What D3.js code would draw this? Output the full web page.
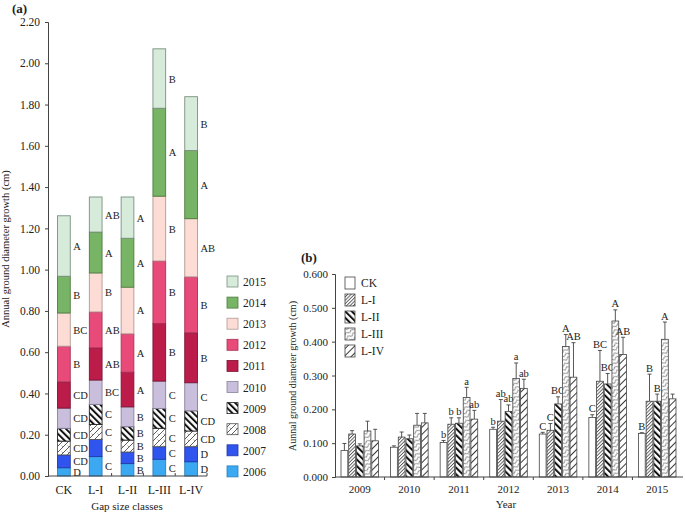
<!DOCTYPE html>
<html><head><meta charset="utf-8">
<script src="https://cdn.jsdelivr.net/npm/d3@7"></script>
<style>
body{margin:0;background:#fff;}
svg text{font-family:"Liberation Serif","Times New Roman",serif;fill:#222;}
</style></head>
<body><svg id="chart" width="685" height="512"></svg>
<script>
// ---------- Panel (a) data ----------
const gapClasses = ["CK","L-I","L-II","L-III","L-IV"];
const yearsA = ["2006","2007","2008","2009","2010","2011","2012","2013","2014","2015"];
// annual increments per gap class, 2006..2015
const growthCK   = [0.040,0.062,0.067,0.062,0.098,0.127,0.173,0.161,0.178,0.293];
const growthLI   = [0.094,0.083,0.073,0.097,0.118,0.156,0.174,0.189,0.198,0.170];
const growthLII  = [0.060,0.056,0.058,0.065,0.096,0.168,0.186,0.226,0.237,0.200];
const growthLIII = [0.081,0.061,0.089,0.096,0.133,0.279,0.303,0.314,0.426,0.288];
const growthLIV  = [0.069,0.073,0.076,0.098,0.136,0.242,0.271,0.282,0.330,0.261];
const lettersCK   = ["D","CD","CD","CD","CD","CD","B","BC","B","A"];
const lettersLI   = ["C","C","C","C","BC","AB","AB","B","A","AB"];
const lettersLII  = ["B","B","B","B","B","A","A","A","A","A"];
const lettersLIII = ["C","C","C","C","C","B","B","B","A","B"];
const lettersLIV  = ["D","D","CD","CD","C","B","B","AB","A","B"];
const yTicksA = [0,0.2,0.4,0.6,0.8,1.0,1.2,1.4,1.6,1.8,2.0,2.2];

// ---------- Panel (b) data ----------
const yearsB = ["2009","2010","2011","2012","2013","2014","2015"];
const treatments = ["CK","L-I","L-II","L-III","L-IV"];
const meanCK   = [0.078,0.088,0.102,0.141,0.127,0.176,0.129];
const meanLI   = [0.127,0.118,0.156,0.165,0.138,0.283,0.224];
const meanLII  = [0.092,0.113,0.159,0.194,0.216,0.275,0.224];
const meanLIII = [0.136,0.153,0.235,0.291,0.386,0.461,0.407];
const meanLIV  = [0.107,0.160,0.171,0.262,0.295,0.362,0.231];
const errCK   = [0.021,0.004,0.006,0.006,0.005,0.008,0.002];
const errLI   = [0.010,0.015,0.019,0.064,0.020,0.091,0.080];
const errLII  = [0.006,0.011,0.016,0.019,0.021,0.031,0.021];
const errLIII = [0.029,0.035,0.030,0.046,0.035,0.033,0.051];
const errLIV  = [0.034,0.028,0.026,0.027,0.102,0.051,0.014];
const sigCK   = ["","","b","b","C","C","B"];
const sigLI   = ["","","b","ab","C","BC","B"];
const sigLII  = ["","","b","ab","BC","BC","B"];
const sigLIII = ["","","a","a","A","A","A"];
const sigLIV  = ["","","ab","ab","AB","AB",""];
const yTicksB = [0,0.1,0.2,0.3,0.4,0.5,0.6];

// ---------- setup ----------
const svg = d3.select("#chart");
const defs = svg.append("defs");
function stripePattern(id, size, width, color, angle, bg){
  const p = defs.append("pattern").attr("id",id).attr("patternUnits","userSpaceOnUse")
    .attr("width",size).attr("height",size).attr("patternTransform",`rotate(${angle})`);
  p.append("rect").attr("width",size).attr("height",size).attr("fill",bg);
  p.append("rect").attr("x",0).attr("y",0).attr("width",width).attr("height",size).attr("fill",color);
}
stripePattern("pBold", 4.6, 2.0, "#111", -45, "#fff");      // thick "\" stripes
stripePattern("pDense", 2.4, 0.9, "#555", 45, "#fff");      // dense "/" hatch
stripePattern("pSparse", 5, 0.9, "#222", 45, "#fff");       // sparse "/" lines
(function(){
  const p = defs.append("pattern").attr("id","pWave").attr("patternUnits","userSpaceOnUse")
    .attr("width",6).attr("height",4).attr("patternTransform","rotate(-30)");
  p.append("rect").attr("width",6).attr("height",4).attr("fill","#fff");
  p.append("path").attr("d","M0,2 Q1.5,0 3,2 T6,2").attr("fill","none").attr("stroke","#555").attr("stroke-width",0.8);
})();
(function(){
  const p = defs.append("pattern").attr("id","pCross").attr("patternUnits","userSpaceOnUse")
    .attr("width",6).attr("height",6);
  p.append("rect").attr("width",6).attr("height",6).attr("fill","#fff");
  p.append("path").attr("d","M0,6 L6,0 M-1,1 L1,-1 M5,7 L7,5").attr("stroke","#333").attr("stroke-width",0.8);
  p.append("path").attr("d","M1.5,1.5 L3,3").attr("stroke","#666").attr("stroke-width",0.6);
})();

const yearFill = {
  "2006":"#3aa9f2","2007":"#2f55ee","2008":"url(#pCross)","2009":"url(#pBold)",
  "2010":"#c9bfdd","2011":"#bb1c4a","2012":"#e84b79","2013":"#fcdcd4",
  "2014":"#78b466","2015":"#d6ebd9"
};
const yearStroke = {
  "2006":"#2a80bd","2007":"#2238a8","2008":"#555","2009":"#222",
  "2010":"#8b809c","2011":"#7d1232","2012":"#a83358","2013":"#b09a94",
  "2014":"#4d7d40","2015":"#7d8f80"
};

// ---------- Panel (a) ----------
const growthA = [growthCK,growthLI,growthLII,growthLIII,growthLIV];
const lettersA = [lettersCK,lettersLI,lettersLII,lettersLIII,lettersLIV];
const xA = d3.scaleBand().domain(gapClasses).range([48,207]).paddingInner(0.6).paddingOuter(0.3);
const yA = d3.scaleLinear().domain([0,2.2]).range([476,22]);
const gA = svg.append("g");

gA.append("g").attr("transform","translate(48,0)")
  .call(d3.axisLeft(yA).tickValues(yTicksA).tickFormat(d3.format(".2f")).tickSize(3).tickPadding(5))
  .call(g=>{g.selectAll("text").style("font-size","11.5px").style("font-family","Liberation Serif");
            g.selectAll("line,path").attr("stroke","#444");});

gapClasses.forEach((c,i)=>{
  let cum = 0;
  growthA[i].forEach((v,j)=>{
    const y0 = cum, y1 = cum+v; cum = y1;
    gA.append("rect").attr("x",xA(c)).attr("width",xA.bandwidth())
      .attr("y",yA(y1)).attr("height",yA(y0)-yA(y1))
      .attr("fill",yearFill[yearsA[j]]).attr("stroke",yearStroke[yearsA[j]]).attr("stroke-width",0.9);
    gA.append("text").attr("x",xA(c)+xA.bandwidth()+3).attr("y",yA((y0+y1)/2)+4)
      .style("font-size","10.5px").text(lettersA[i][j]);
  });
});

// x axis (a)
gA.append("line").attr("x1",48).attr("x2",207).attr("y1",476).attr("y2",476).attr("stroke","#444");
d3.range(1,6).forEach(k=>{
  const bx = 48 + k*xA.step();
  gA.append("line").attr("x1",bx).attr("x2",bx).attr("y1",476).attr("y2",473).attr("stroke","#444");
});
gapClasses.forEach(c=>{
  gA.append("text").attr("x",xA(c)+xA.bandwidth()/2).attr("y",494).attr("text-anchor","middle")
    .style("font-size","12px").text(c);
});
gA.append("text").attr("x",127).attr("y",510).attr("text-anchor","middle").style("font-size","11px").text("Gap size classes");
gA.append("text").attr("transform","translate(9,249) rotate(-90)").attr("text-anchor","middle")
  .style("font-size","10.5px").text("Annual ground diameter growth (cm)");
gA.append("text").attr("x",12).attr("y",13).style("font-size","13px").style("font-weight","bold").text("(a)");

// legend (a)
yearsA.slice().reverse().forEach((yr,i)=>{
  const ly = 276 + i*21.1;
  gA.append("rect").attr("x",227).attr("y",ly).attr("width",11).attr("height",11)
    .attr("fill",yearFill[yr]).attr("stroke",yearStroke[yr]).attr("stroke-width",0.8);
  gA.append("text").attr("x",243).attr("y",ly+10).style("font-size","11.5px").text(yr);
});

// ---------- Panel (b) ----------
const meansB = [meanCK,meanLI,meanLII,meanLIII,meanLIV];
const errsB = [errCK,errLI,errLII,errLIII,errLIV];
const sigsB = [sigCK,sigLI,sigLII,sigLIII,sigLIV];
const trtFill = {"CK":"#fff","L-I":"url(#pDense)","L-II":"url(#pBold)","L-III":"url(#pWave)","L-IV":"url(#pSparse)"};
const xB = d3.scaleBand().domain(yearsB).range([335,682]).padding(0);
const xInner = d3.scaleBand().domain(treatments).range([6, xB.bandwidth()-6]).paddingInner(0.12);
const yB = d3.scaleLinear().domain([0,0.6]).range([477,274]);
const gB = svg.append("g");

gB.append("g").attr("transform","translate(335,0)")
  .call(d3.axisLeft(yB).tickValues(yTicksB).tickFormat(d3.format(".3f")).tickSize(3).tickPadding(4))
  .call(g=>{g.selectAll("text").style("font-size","11px").style("font-family","Liberation Serif");
            g.selectAll("line,path").attr("stroke","#444");});

yearsB.forEach((yr,k)=>{
  treatments.forEach((t,i)=>{
    const x0 = xB(yr)+xInner(t), w = xInner.bandwidth();
    const m = meansB[i][k], e = errsB[i][k];
    const cx = x0 + w/2;
    gB.append("line").attr("x1",cx).attr("x2",cx).attr("y1",yB(m)).attr("y2",yB(m+e)).attr("stroke","#444").attr("stroke-width",0.9);
    gB.append("line").attr("x1",cx-2).attr("x2",cx+2).attr("y1",yB(m+e)).attr("y2",yB(m+e)).attr("stroke","#444").attr("stroke-width",0.9);
    gB.append("rect").attr("x",x0).attr("width",w).attr("y",yB(m)).attr("height",yB(0)-yB(m))
      .attr("fill",trtFill[t]).attr("stroke","#444").attr("stroke-width",0.8);
    if (sigsB[i][k]) {
      gB.append("text").attr("x",cx).attr("y",yB(m+e)-2.5).attr("text-anchor","middle")
        .style("font-size","10.5px").text(sigsB[i][k]);
    }
  });
});

gB.append("line").attr("x1",335).attr("x2",683).attr("y1",477).attr("y2",477).attr("stroke","#444");
d3.range(1,7).forEach(k=>{
  const bx = 335 + k*xB.step();
  gB.append("line").attr("x1",bx).attr("x2",bx).attr("y1",477).attr("y2",480).attr("stroke","#444");
});
yearsB.forEach(yr=>{
  gB.append("text").attr("x",xB(yr)+xB.bandwidth()/2).attr("y",493).attr("text-anchor","middle")
    .style("font-size","11px").text(yr);
});
gB.append("text").attr("x",506).attr("y",508).attr("text-anchor","middle").style("font-size","11px").text("Year");
gB.append("text").attr("transform","translate(296,376) rotate(-90)").attr("text-anchor","middle")
  .style("font-size","10px").text("Aunnal ground diameter growth (cm)");
gB.append("text").attr("x",301).attr("y",262).style("font-size","13px").style("font-weight","bold").text("(b)");

// legend (b)
treatments.forEach((t,i)=>{
  const ly = 277 + i*17;
  gB.append("rect").attr("x",345).attr("y",ly).attr("width",10).attr("height",12)
    .attr("fill",trtFill[t]).attr("stroke","#444").attr("stroke-width",0.8);
  gB.append("text").attr("x",361).attr("y",ly+10).style("font-size","11.5px").text(t);
});
</script></body></html>
